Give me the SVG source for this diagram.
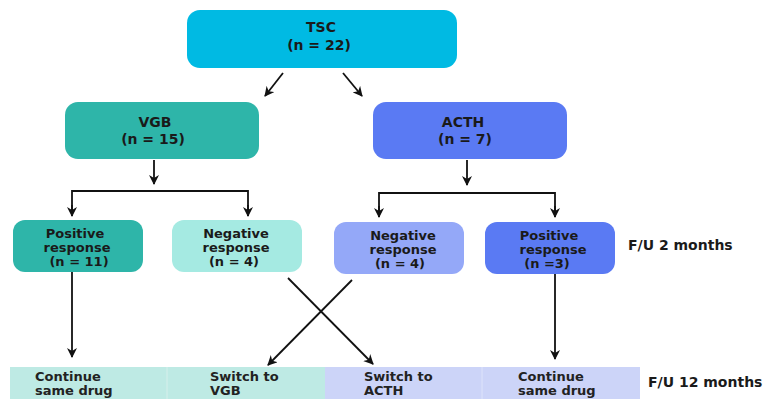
<svg xmlns="http://www.w3.org/2000/svg" width="764" height="399" viewBox="0 0 764 399">
  <defs>
    <marker id="arrow" viewBox="0 0 10 10" refX="9" refY="5" markerWidth="10" markerHeight="10" markerUnits="userSpaceOnUse" orient="auto">
      <path d="M0,0 L10,5 L0,10 L3,5 Z" fill="#111"/>
    </marker>
    <style>
      .lbl { font-family: "DejaVu Sans", "Liberation Sans", sans-serif; font-weight: 700; fill: #1a1a1a; text-anchor: middle; }
      .big { font-size: 14px; }
      .mid { font-size: 13px; }
      .cell { font-family: "DejaVu Sans", "Liberation Sans", sans-serif; font-weight: 700; font-size: 13px; fill: #222; }
      .side { font-family: "DejaVu Sans", "Liberation Sans", sans-serif; font-weight: 700; font-size: 14px; fill: #1a1a1a; }
      .wire { fill: none; stroke: #111; stroke-width: 1.8; }
    </style>
  </defs>

  <rect width="764" height="399" fill="#ffffff"/>

  <!-- top node -->
  <g id="tsc">
    <rect x="187" y="10" width="270" height="58" rx="13" fill="#00BAE3"/>
    <text class="lbl big" x="321" y="32">TSC</text>
    <text class="lbl big" x="319" y="50">(n = 22)</text>
  </g>

  <!-- treatment arms -->
  <g id="vgb">
    <rect x="65" y="102" width="194" height="57" rx="13" fill="#2EB5A9"/>
    <text class="lbl big" x="155" y="127">VGB</text>
    <text class="lbl big" x="153" y="144">(n = 15)</text>
  </g>
  <g id="acth">
    <rect x="373" y="102" width="194" height="57" rx="13" fill="#5A7AF3"/>
    <text class="lbl big" x="463" y="127">ACTH</text>
    <text class="lbl big" x="465" y="144">(n = 7)</text>
  </g>

  <!-- 2-month responses -->
  <g id="vgb-pos">
    <rect x="13" y="220" width="130" height="52" rx="12" fill="#2EB5A9"/>
    <text class="lbl mid" x="75" y="238">Positive</text>
    <text class="lbl mid" x="77" y="252">response</text>
    <text class="lbl mid" x="79" y="266">(n = 11)</text>
  </g>
  <g id="vgb-neg">
    <rect x="172" y="220" width="130" height="52" rx="12" fill="#A5EAE2"/>
    <text class="lbl mid" x="236" y="238">Negative</text>
    <text class="lbl mid" x="236" y="252">response</text>
    <text class="lbl mid" x="234" y="266">(n = 4)</text>
  </g>
  <g id="acth-neg">
    <rect x="334" y="222" width="130" height="52" rx="12" fill="#94A8F8"/>
    <text class="lbl mid" x="403" y="240">Negative</text>
    <text class="lbl mid" x="403" y="254">response</text>
    <text class="lbl mid" x="400" y="268">(n = 4)</text>
  </g>
  <g id="acth-pos">
    <rect x="485" y="222" width="130" height="52" rx="12" fill="#5A7AF3"/>
    <text class="lbl mid" x="549" y="240">Positive</text>
    <text class="lbl mid" x="553" y="254">response</text>
    <text class="lbl mid" x="547" y="268">(n =3)</text>
  </g>
  <text class="side" x="628" y="250">F/U 2 months</text>

  <!-- 12-month outcome strip -->
  <g id="outcomes">
    <rect x="10" y="367" width="157" height="32" fill="#BEEAE4"/>
    <rect x="167" y="367" width="158" height="32" fill="#BEEAE4"/>
    <rect x="325" y="367" width="157" height="32" fill="#CCD4F8"/>
    <rect x="482" y="367" width="158" height="32" fill="#CCD4F8"/>
    <line x1="167" y1="367" x2="167" y2="399" stroke="#d6efeb" stroke-width="1"/>
    <line x1="482" y1="367" x2="482" y2="399" stroke="#dde3fa" stroke-width="1"/>
    <text class="cell" x="35" y="381">Continue</text>
    <text class="cell" x="35" y="395">same drug</text>
    <text class="cell" x="210" y="381">Switch to</text>
    <text class="cell" x="210" y="395">VGB</text>
    <text class="cell" x="364" y="381">Switch to</text>
    <text class="cell" x="364" y="395">ACTH</text>
    <text class="cell" x="518" y="381">Continue</text>
    <text class="cell" x="518" y="395">same drug</text>
  </g>
  <text class="side" x="648" y="387">F/U 12 months</text>

  <!-- connectors -->
  <g id="connectors">
    <line class="wire" x1="283" y1="73" x2="265" y2="96" marker-end="url(#arrow)"/>
    <line class="wire" x1="343" y1="73" x2="362" y2="96" marker-end="url(#arrow)"/>

    <line class="wire" x1="154" y1="160" x2="154" y2="184" marker-end="url(#arrow)"/>
    <polyline class="wire" points="72,216 72,191 248,191 248,216"/>
    <line class="wire" x1="72" y1="205" x2="72" y2="216" marker-end="url(#arrow)"/>
    <line class="wire" x1="248" y1="205" x2="248" y2="216" marker-end="url(#arrow)"/>

    <line class="wire" x1="467" y1="160" x2="467" y2="185" marker-end="url(#arrow)"/>
    <polyline class="wire" points="379,217 379,193 555,193 555,217"/>
    <line class="wire" x1="379" y1="206" x2="379" y2="217" marker-end="url(#arrow)"/>
    <line class="wire" x1="555" y1="206" x2="555" y2="217" marker-end="url(#arrow)"/>

    <line class="wire" x1="72" y1="272" x2="72" y2="357" marker-end="url(#arrow)"/>
    <line class="wire" x1="555" y1="274" x2="555" y2="359" marker-end="url(#arrow)"/>

    <line class="wire" x1="288" y1="278" x2="373" y2="364" marker-end="url(#arrow)"/>
    <line class="wire" x1="352" y1="280" x2="268" y2="365" marker-end="url(#arrow)"/>
  </g>
</svg>
